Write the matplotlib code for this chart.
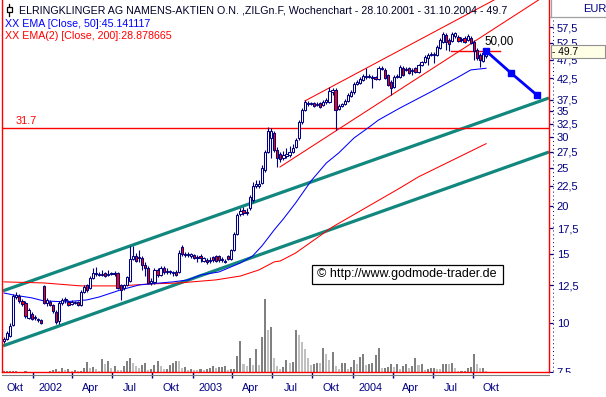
import matplotlib
matplotlib.use('Agg')
import matplotlib.pyplot as plt
from matplotlib.patches import Rectangle
from matplotlib.lines import Line2D
import matplotlib.ticker as mticker
import numpy as np
import pandas as pd

# ---------------- data ----------------
start_date = '2001-10-28'
n_weeks = 158

opens = [8.99, 9.09, 9.26, 9.88, 11.66, 11.73, 11.39, 11.26, 10.30, 10.54,
         10.30, 10.18, 10.18, 12.45, 11.26, 11.33, 11.12, 10.67, 10.12, 11.26,
         11.46, 11.33, 11.19, 11.26, 11.33, 11.12, 12.02, 12.52, 12.30, 13.05,
         13.36, 13.36, 13.28, 13.44, 13.28, 13.36, 13.36, 13.44, 12.52, 12.30,
         12.52, 12.82, 14.61, 14.87, 14.69, 14.69, 14.09, 13.85, 12.67, 12.75,
         13.68, 13.28, 13.85, 13.52, 13.52, 13.44, 13.52, 13.52, 15.68, 15.04,
         14.95, 14.87, 14.95, 14.69, 14.87, 14.43, 14.52, 14.43, 14.78, 14.87,
         14.87, 14.52, 14.35, 14.87, 14.61, 15.40, 16.93, 19.06, 19.52, 19.18,
         19.75, 20.71, 22.50, 22.50, 22.90, 24.73, 27.50, 29.88, 30.78, 27.83,
         27.18, 26.55, 26.86, 27.02, 27.50, 28.33, 29.88, 32.85, 35.27, 36.54,
         36.54, 36.76, 36.33, 36.76, 36.33, 36.98, 36.98, 39.24, 39.70, 35.48,
         36.12, 36.54, 37.20, 38.31, 39.24, 41.13, 41.37, 42.12, 42.87, 42.87,
         42.62, 42.87, 42.37, 44.96, 44.69, 43.39, 41.62, 40.41, 42.87, 42.87,
         45.22, 44.69, 45.22, 44.43, 45.22, 44.17, 46.03, 46.85, 47.97, 48.83,
         48.83, 48.83, 50.89, 52.73, 54.97, 53.36, 53.04, 54.65, 54.32, 53.68,
         54.00, 53.36, 54.00, 52.73, 50.30, 48.83, 47.13, 48.54]
highs = [9.20, 9.53, 10.00, 11.87, 12.01, 11.87, 11.53, 11.39, 10.93, 10.67,
         10.48, 10.30, 10.24, 12.52, 11.60, 11.46, 11.19, 10.80, 11.39, 11.60,
         11.66, 11.46, 11.46, 11.39, 11.39, 12.16, 12.52, 12.60, 13.20, 13.85,
         13.93, 13.52, 13.68, 13.52, 13.68, 13.52, 13.60, 13.52, 12.60, 12.60,
         13.20, 15.77, 15.77, 15.13, 15.40, 14.87, 14.35, 14.01, 13.05, 13.85,
         13.85, 14.01, 14.01, 13.85, 13.68, 13.60, 13.68, 15.40, 15.86, 15.22,
         15.22, 15.13, 15.04, 14.95, 15.04, 14.78, 14.69, 14.78, 14.87, 14.95,
         14.95, 14.78, 14.61, 14.95, 15.49, 17.14, 19.18, 19.75, 19.87, 19.75,
         21.33, 23.04, 23.31, 23.31, 25.47, 27.83, 31.90, 31.70, 31.14, 28.33,
         27.50, 27.67, 28.16, 28.50, 28.84, 29.88, 33.24, 35.69, 37.42, 37.20,
         36.98, 36.98, 36.98, 36.98, 37.42, 37.86, 40.41, 40.17, 40.17, 36.54,
         36.76, 37.64, 39.00, 39.70, 41.62, 42.12, 42.87, 43.65, 45.22, 43.65,
         43.39, 43.13, 45.76, 45.76, 45.22, 43.65, 42.12, 43.39, 43.65, 46.03,
         45.76, 45.49, 45.49, 45.22, 45.49, 46.30, 47.13, 48.83, 49.41, 49.71,
         49.71, 51.81, 54.00, 55.96, 55.63, 54.00, 55.96, 55.96, 54.97, 54.32,
         54.65, 55.30, 54.65, 53.36, 50.89, 49.41, 50.00, 50.30]
lows = [8.88, 9.04, 9.20, 9.82, 11.53, 11.26, 11.06, 10.30, 10.24, 10.18,
        10.18, 10.06, 9.94, 11.19, 11.06, 11.06, 10.61, 9.94, 9.94, 11.12,
        11.26, 11.06, 11.12, 11.19, 11.06, 11.06, 11.95, 12.02, 12.23, 12.97,
        13.20, 13.20, 13.20, 13.12, 13.20, 13.28, 13.20, 12.23, 11.46, 12.16,
        12.45, 12.75, 14.52, 14.35, 14.35, 13.68, 13.20, 12.60, 12.52, 12.60,
        13.12, 13.20, 13.36, 13.36, 13.36, 13.20, 13.20, 13.44, 14.87, 14.78,
        14.78, 14.69, 14.61, 14.35, 14.35, 14.35, 14.18, 14.26, 14.35, 14.35,
        14.35, 14.35, 14.26, 14.52, 14.52, 15.31, 16.83, 18.84, 18.95, 18.95,
        19.52, 20.47, 22.23, 22.23, 22.77, 24.44, 27.34, 26.55, 27.50, 25.17,
        25.93, 26.23, 26.55, 26.70, 27.34, 28.16, 29.53, 32.46, 35.06, 36.12,
        36.33, 35.90, 36.12, 35.69, 36.12, 36.54, 36.76, 38.54, 31.33, 35.27,
        35.90, 36.33, 36.98, 38.08, 38.77, 40.89, 41.13, 41.87, 42.37, 42.62,
        40.17, 42.12, 42.12, 44.69, 42.37, 40.65, 38.54, 40.17, 42.62, 42.62,
        43.13, 44.43, 43.65, 43.39, 43.91, 43.91, 45.76, 46.57, 46.03, 48.54,
        46.57, 48.54, 50.59, 52.42, 50.30, 50.00, 52.73, 54.00, 52.73, 52.73,
        52.42, 53.04, 52.11, 47.41, 47.41, 45.49, 46.85, 47.97]
closes = [9.09, 9.42, 9.82, 11.73, 11.80, 11.39, 11.19, 10.42, 10.80, 10.24,
          10.36, 10.24, 10.00, 11.26, 11.46, 11.12, 10.74, 10.06, 11.26, 11.46,
          11.53, 11.12, 11.33, 11.33, 11.12, 12.02, 12.37, 12.16, 13.05, 13.44,
          13.44, 13.28, 13.36, 13.20, 13.36, 13.44, 13.44, 12.30, 12.16, 12.52,
          13.12, 14.61, 14.87, 14.43, 14.78, 14.09, 13.85, 12.67, 12.82, 13.68,
          13.28, 13.85, 13.52, 13.60, 13.60, 13.52, 13.28, 15.13, 15.04, 14.95,
          15.04, 15.04, 14.69, 14.78, 14.69, 14.69, 14.35, 14.52, 14.52, 14.43,
          14.52, 14.61, 14.43, 14.61, 15.40, 16.93, 18.95, 19.41, 19.18, 19.29,
          21.08, 22.50, 22.77, 22.77, 25.02, 27.50, 31.14, 31.14, 27.83, 26.55,
          26.39, 27.02, 27.18, 27.50, 28.16, 29.53, 32.85, 35.27, 36.98, 36.76,
          36.76, 36.12, 36.54, 35.90, 36.98, 37.42, 39.47, 39.70, 35.27, 36.12,
          36.54, 37.20, 38.54, 39.24, 41.13, 41.62, 42.37, 43.13, 43.13, 43.13,
          42.87, 42.37, 45.22, 45.22, 42.62, 40.89, 40.17, 42.87, 43.13, 45.49,
          43.39, 44.96, 43.91, 44.69, 44.17, 46.03, 46.85, 48.26, 48.83, 49.12,
          49.12, 51.20, 53.36, 55.30, 52.73, 52.11, 55.30, 55.63, 53.04, 53.36,
          52.73, 54.65, 52.42, 50.00, 47.97, 47.41, 49.41, 49.70]
volumes = [0.5, 1.3, 1.3, 1.3, 1.3, 0.3, 0.3, 1.3, 0.3, 0.3,
           0.3, 0.3, 0.3, 0.3, 0.3, 0.5, 2.3, 3.0, 1.0, 4.0,
           2.3, 3.0, 1.3, 2.3, 0.5, 1.0, 4.0, 9.7, 4.0, 5.0,
           3.0, 1.3, 13.3, 8.0, 10.7, 4.0, 5.7, 2.3, 2.0, 6.3,
           11.3, 14.0, 9.0, 5.7, 4.0, 7.3, 9.0, 2.3, 3.0, 7.3,
           10.7, 6.3, 3.0, 3.0, 7.3, 9.0, 11.3, 10.7, 4.0, 5.0,
           2.3, 3.0, 2.3, 1.7, 3.0, 2.3, 3.0, 4.0, 5.7, 4.0,
           5.0, 5.0, 5.7, 2.3, 3.0, 3.0, 15.7, 30.7, 8.0, 6.0,
           14.0, 7.0, 23.3, 7.0, 35.0, 73.0, 42.3, 45.0, 14.0, 6.0,
           3.0, 5.0, 12.3, 9.0, 9.7, 42.3, 37.0, 30.0, 23.0, 13.7,
           7.0, 7.7, 9.3, 8.7, 23.7, 17.7, 11.7, 20.0, 6.0, 3.3,
           9.3, 9.3, 3.3, 5.3, 11.7, 7.7, 15.0, 17.7, 6.7, 7.7,
           9.3, 16.7, 23.7, 4.3, 4.3, 5.0, 7.7, 5.0, 7.7, 3.3,
           6.0, 7.7, 3.7, 6.0, 13.7, 6.7, 7.7, 2.0, 2.7, 3.7,
           3.7, 3.3, 2.7, 7.7, 8.3, 7.7, 8.7, 4.3, 1.0, 1.0,
           1.0, 3.7, 5.0, 17.7, 7.7, 3.7, 3.7, 1.0]

ema50_week = [0, 3, 9, 13, 20, 27, 31, 38, 44, 51, 55, 60, 64, 70, 77, 81,
              84, 88, 91, 95, 100, 105, 109, 114, 119, 122, 129, 139, 148, 152, 157]
ema50_val = [11.94, 11.80, 11.60, 11.39, 11.33, 11.46, 11.66, 12.16, 12.52, 12.67,
             12.75, 12.90, 13.28, 13.52, 14.26, 14.87, 15.77, 17.34, 18.51, 20.35,
             23.17, 25.77, 27.34, 29.88, 31.90, 33.24, 35.69, 39.24, 42.87, 44.69, 45.14]
ema200_week = [0, 13, 25, 38, 48, 57, 69, 77, 83, 88, 90, 95, 107, 129, 135, 157]
ema200_val = [12.75, 12.67, 12.45, 12.45, 12.60, 12.67, 12.90, 13.20, 13.68, 14.35,
              14.43, 15.13, 17.65, 22.23, 23.74, 28.88]

teal_upper_week = [-0.33, 177.5]
teal_upper_val = [12.09, 37.86]
teal_lower_week = [-0.33, 177.5]
teal_lower_val = [8.73, 27.50]
red_upper_week = [98.0, 159.6]
red_upper_val = [37.2, 67.6]
red_lower_week = [89.9, 174.1]
red_lower_val = [25.17, 67.6]
support_level = 31.7
resist_week = [145.6, 161.6]
resist_level = 50.00
proj_week = [157, 165.1, 173.6]
proj_val = [50.0, 43.9, 38.5]

ytick_vals = [7.5, 10, 12.5, 15, 17.5, 20, 22.5, 25, 27.5, 30, 32.5, 35, 37.5,
              42.5, 47.5, 52.5, 57.5]
xtick_labels = ['Okt', '2002', 'Apr', 'Jul', 'Okt', '2003', 'Apr', 'Jul',
                'Okt', '2004', 'Apr', 'Jul', 'Okt']

title = 'ELRINGKLINGER AG NAMENS-AKTIEN O.N. ,ZILGn.F, Wochenchart - 28.10.2001 - 31.10.2004 - 49.7'
ema50_label = 'XX EMA [Close, 50]:45.141117'
ema200_label = 'XX EMA(2) [Close, 200]:28.878665'
last_price_label = '49.7'
copyright_text = '\u00a9 http://www.godmode-trader.de'

# ---------------- figure ----------------
plt.rcParams['font.family'] = ['Liberation Sans', 'DejaVu Sans']
W, H = 606, 397
fig = plt.figure(figsize=(W / 100, H / 100), dpi=100)
fig.patch.set_facecolor('white')

def fx(x):
    return x / W

def fy(y):
    return 1 - y / H

PL, PR, PT, PB = 2, 549, 0, 372
rect = [fx(PL), fy(PB), (PR - PL) / W, (PB - PT) / H]
XMIN, XMAX = -0.65, 177.5
NAVY = '#000080'

# volume (behind)
axv = fig.add_axes(rect)
axv.set_axis_off()
axv.set_xlim(XMIN, XMAX)
axv.set_ylim(0, 371)
weeks = np.arange(n_weeks)
vols = np.array(volumes)
vcol = ['#c0c0c0' if (k > 0 and vols[k] < vols[k - 1]) else '#808080' for k in range(n_weeks)]
axv.bar(weeks, vols, width=0.66, color=vcol, linewidth=0)

# price axes
ax = fig.add_axes(rect)
ax.patch.set_alpha(0)
ax.set_yscale('log')
ax.set_xlim(XMIN, XMAX)
ax.set_ylim(7.48, 67.6)

o = np.array(opens); c = np.array(closes); hi = np.array(highs); lo = np.array(lows)

# channel lines
teal = '#12877d'
ax.plot(teal_upper_week, teal_upper_val, color=teal, lw=2.3, solid_capstyle='butt', zorder=2)
ax.plot(teal_lower_week, teal_lower_val, color=teal, lw=2.3, solid_capstyle='butt', zorder=2)
ax.plot(red_upper_week, red_upper_val, color='#ff0000', lw=0.75, zorder=2)
ax.plot(red_lower_week, red_lower_val, color='#ff0000', lw=0.75, zorder=2)
ax.axhline(support_level, color='#ff0000', lw=1.0, zorder=2)
ax.plot(resist_week, [resist_level, resist_level], color='#ff0000', lw=1.0, zorder=2)

# EMAs
ax.plot(ema200_week, ema200_val, color='#ff0000', lw=0.75, zorder=3)
ax.plot(ema50_week, ema50_val, color='#0000ff', lw=0.75, zorder=3)

# candles
ax.vlines(weeks, lo, hi, color=NAVY, lw=0.8, zorder=4)
up = c >= o
bottoms = np.minimum(o, c)
heights = np.maximum(np.abs(c - o), 0.0001)
ax.bar(weeks[up], heights[up], bottom=bottoms[up], width=0.72, color='white',
       edgecolor=NAVY, linewidth=0.75, zorder=5)
ax.bar(weeks[~up], heights[~up], bottom=bottoms[~up], width=0.72, color='#ff0000',
       edgecolor=NAVY, linewidth=0.75, zorder=5)

# projection
ax.plot(proj_week, proj_val, color='#0000ff', lw=2.0, marker='s', ms=4.2,
        markerfacecolor='#0000ff', markeredgecolor='#0000ff', zorder=6)

# spines
for s in ['left', 'right', 'bottom']:
    ax.spines[s].set_color('#ff0000')
    ax.spines[s].set_linewidth(1.0)
ax.spines['top'].set_visible(False)

# y axis on right
ax.yaxis.tick_right()
ax.yaxis.set_major_locator(mticker.FixedLocator(ytick_vals))
ax.yaxis.set_minor_locator(mticker.NullLocator())
ax.set_yticklabels([('%g' % v).replace('.', ',') for v in ytick_vals])
ax.tick_params(axis='y', which='major', length=3, width=0.9, color=NAVY,
               labelcolor=NAVY, labelsize=8, pad=2.5)

# x axis ticks at quarter starts
d0 = pd.Timestamp(start_date)
qstarts = pd.date_range('2001-10-01', '2004-10-01', freq='QS')
qpos = np.array([(q - d0).days / 7.0 for q in qstarts])
ax.set_xticks(qpos[qpos > XMIN])
ax.set_xticklabels([])
ax.tick_params(axis='x', which='major', length=4, width=1.0, color=NAVY, direction='out')
ax.xaxis.set_minor_locator(mticker.NullLocator())
bounds = list(qpos) + [qpos[-1] + 13.04]
for k, lab in enumerate(xtick_labels):
    a = max(bounds[k], XMIN)
    b = min(bounds[k + 1], XMAX)
    xc = (a + b) / 2 - 0.6
    ax.text(xc, -0.043, lab, transform=ax.get_xaxis_transform(), ha='center',
            va='center', fontsize=7.8, color=NAVY, clip_on=False)

# ---------------- annotations ----------------
fig.text(fx(16), fy(121.5), '31.7', color='#ff0000', fontsize=7.8, ha='left', va='center')
fig.text(fx(484), fy(41), '50,00', color='black', fontsize=8.4, ha='left', va='center')

# copyright box
fig.patches.append(Rectangle((fx(312), fy(284)), (503 - 312) / W, (284 - 265) / H,
                             transform=fig.transFigure, facecolor='white',
                             edgecolor='black', lw=0.9, zorder=7))
fig.text(fx(317), fy(274.5), copyright_text, fontsize=9, color='black', ha='left',
         va='center', zorder=8)

# header
fig.lines.append(Line2D([fx(9), fx(9)], [fy(3.5), fy(15.5)], color='black', lw=0.9,
                        transform=fig.transFigure))
fig.patches.append(Rectangle((fx(6.5), fy(12)), 5 / W, 5 / H, transform=fig.transFigure,
                             facecolor='white', edgecolor='black', lw=0.9, zorder=3))
fig.text(fx(19), fy(10.5), title, fontsize=7.65, color='#00002a', ha='left', va='center')
fig.text(fx(5), fy(24), ema50_label, fontsize=7.65, color='#0000ff', ha='left', va='center')
fig.text(fx(5), fy(36), ema200_label, fontsize=7.65, color='#ff0000', ha='left', va='center')

# right panel decorations
fig.lines.append(Line2D([fx(550), fx(606)], [fy(17), fy(17)], color='#a0a0a0', lw=0.9,
                        transform=fig.transFigure))
fig.lines.append(Line2D([fx(550.5), fx(550.5)], [fy(0), fy(17)], color='#a0a0a0', lw=0.9,
                        transform=fig.transFigure))
fig.lines.append(Line2D([fx(552.5), fx(552.5)], [fy(20), fy(372)], color=NAVY, lw=0.7,
                        linestyle=(0, (1, 3)), transform=fig.transFigure))
fig.text(fx(583), fy(9.5), 'EUR', fontsize=8, color=NAVY, ha='left', va='center')

# current price box (covers parts of the neighbouring tick labels, as in the original)
fig.patches.append(Rectangle((fx(551), fy(58)), (605 - 551) / W, 13 / H,
                             transform=fig.transFigure, facecolor='#ffffe6',
                             edgecolor='#909090', lw=0.8, zorder=7))
fig.text(fx(552), fy(52), '- ' + last_price_label, fontsize=7.4, color='black', ha='left',
         va='center', zorder=8)

# bottom: grey line under plot, and mask in right panel below the plot
fig.lines.append(Line2D([fx(2), fx(549)], [fy(374.5), fy(374.5)], color='#808080', lw=0.8,
                        transform=fig.transFigure))
fig.patches.append(Rectangle((fx(550), 0), 56 / W, fy(372.5), transform=fig.transFigure,
                             facecolor='white', edgecolor='none', zorder=9))

fig.savefig('out.png', dpi=100, facecolor='white')
